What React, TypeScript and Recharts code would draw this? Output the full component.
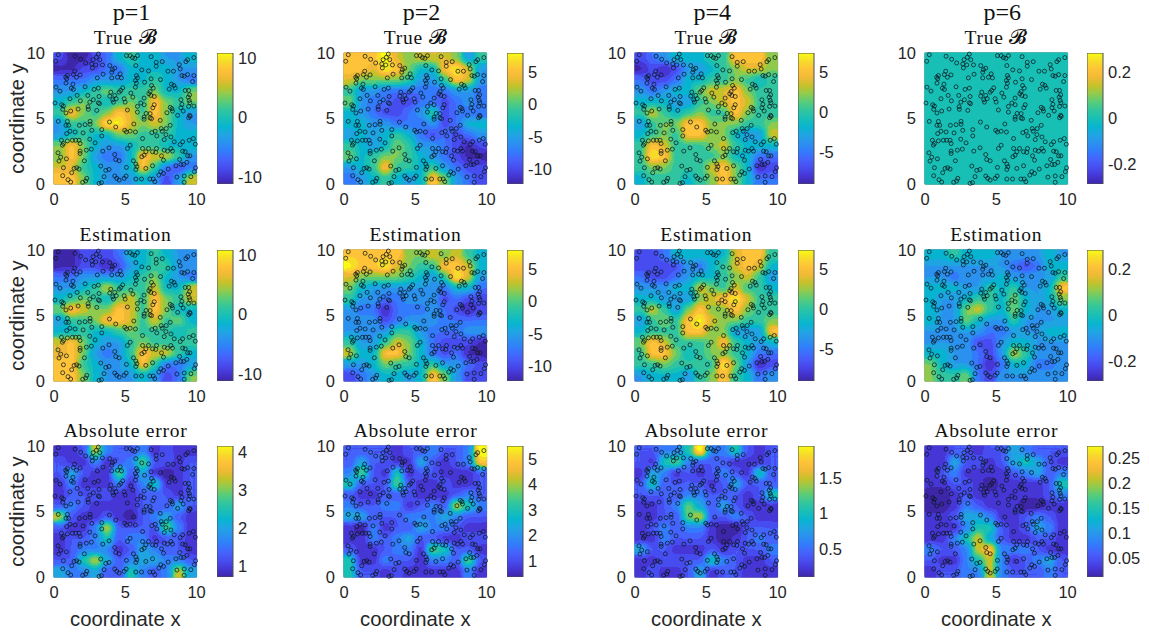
import React from 'react';
import { ScatterChart, Scatter, XAxis, YAxis, ReferenceArea, BarChart, Bar, Label } from 'recharts';

const pointX = [.30,.12,1.48,1.87,2.22,3.11,2.97,3.21,2.74,2.65,2.93,2.69,3.40,3.91,4.26,4.10,5.08,5.34,5.50,5.67,5.85,6.81,7.17,7.59,7.17,5.74,8.78,9.37,9.25,9.81,8.85,6.16,6.63,8.38,7.99,1.45,1.36,1.57,1.83,.94,.82,.89,3.44,3.04,4.05,4.64,4.45,4.73,4.05,5.78,5.85,5.71,5.78,6.81,7.47,6.35,8.97,9.13,9.37,9.81,9.72,.84,1.33,1.22,1.36,2.18,.14,.42,4.82,4.68,4.57,5.71,6.84,6.96,3.11,2.81,8.24,8.41,8.50,8.08,9.20,9.44,9.51,6.74,6.65,3.98,3.91,4.26,4.36,4.12,4.17,1.62,2.37,1.85,1.12,2.76,2.51,3.16,3.11,3.19,4.92,4.99,5.39,5.53,6.32,6.79,7.03,6.09,5.85,6.32,7.03,6.93,8.90,9.41,9.48,9.53,8.97,8.90,9.44,9.81,.07,.54,.66,.61,.84,1.17,1.69,2.39,2.41,3.00,5.15,5.85,6.46,6.74,8.15,8.27,7.92,8.31,8.67,9.06,9.51,9.44,9.55,6.32,6.32,6.74,6.84,7.45,3.89,.30,.94,.84,2.53,2.53,2.18,1.78,1.03,5.60,4.33,3.35,2.65,4.96,5.08,5.34,5.71,1.12,1.48,.89,2.04,3.35,2.51,1.76,1.52,1.29,1.83,.52,.66,.59,.94,2.88,6.21,6.86,7.10,7.52,7.59,7.87,8.15,7.21,7.85,7.73,8.20,8.43,9.48,9.77,8.85,9.02,9.91,5.34,5.15,3.86,3.42,2.62,2.27,1.83,1.83,.28,.47,.35,.87,2.13,6.21,6.63,6.44,6.91,7.14,7.19,7.73,7.96,8.31,8.20,9.02,9.37,9.53,9.20,6.32,6.16,7.54,7.68,4.26,4.33,4.57,5.57,5.74,5.81,5.74,8.81,8.90,9.09,9.32,8.55,9.93,9.84,8.01,7.49,7.35,7.68,6.91,6.44,.66,1.41,1.59,1.76,1.24,.61,3.28,3.63,3.86,5.08,5.06,3.51,.98,1.17,2.30,2.22,2.01,3.16,3.33,4.26,4.40,4.57,4.92,5.74,6.14,6.72,6.96,7.07,8.62,9.13,9.13,9.60];
const pointY = [9.87,9.37,9.75,9.52,9.24,9.92,9.67,9.49,9.49,9.16,9.09,8.86,9.09,9.04,8.84,8.73,9.80,9.80,9.65,9.59,9.80,9.72,9.29,9.34,8.99,9.04,9.11,9.49,9.34,9.65,8.78,8.71,8.63,8.61,8.61,8.61,8.35,8.15,8.33,8.28,8.15,8.03,8.38,8.10,8.53,8.41,8.15,8.10,8.10,8.28,8.10,7.90,7.70,8.03,7.97,7.77,8.28,8.23,8.35,8.28,7.82,7.70,7.62,7.32,7.22,7.42,7.39,7.09,7.34,7.14,7.01,7.39,7.52,7.32,7.32,7.22,7.62,7.52,7.32,7.24,7.14,7.14,6.81,7.06,6.89,7.01,6.71,6.76,6.51,6.43,6.25,6.76,6.76,6.35,6.51,6.43,6.25,6.68,6.20,6.13,6.51,6.25,6.94,6.63,6.56,6.76,6.68,6.18,5.92,6.05,6.05,5.82,6.43,6.63,6.38,6.20,6.08,5.82,5.92,5.95,6.18,6.05,5.95,5.70,5.42,5.57,5.72,5.90,5.70,5.62,5.65,5.49,5.39,5.37,5.85,5.75,5.44,5.57,5.24,5.57,5.24,5.06,5.16,5.11,4.94,5.04,4.99,4.86,4.73,4.78,4.78,4.48,4.78,4.56,4.53,4.48,4.48,4.58,4.35,4.15,4.10,4.10,3.97,4.03,3.97,4.03,3.97,3.85,3.90,3.67,3.42,3.34,3.34,3.34,3.09,3.34,3.09,2.96,3.29,3.14,3.47,3.92,4.03,4.23,4.03,4.23,4.48,3.67,3.77,3.39,3.59,3.22,3.34,3.47,3.01,3.22,3.04,2.96,2.71,2.76,2.51,2.66,2.58,2.51,2.33,2.38,2.05,1.75,1.92,1.77,2.71,2.71,2.46,2.46,2.41,2.71,2.58,2.51,2.51,2.71,2.51,2.15,2.15,2.46,2.20,2.08,2.15,1.82,2.25,1.87,1.77,1.77,1.52,1.32,1.11,1.87,1.49,1.49,1.65,1.39,1.24,.94,1.14,.94,.68,.81,1.39,1.19,1.24,1.19,1.24,1.14,.86,.63,1.37,1.04,1.11,1.27,.61,.56,.33,.15,.43,.23,.13,.05,.10,.61,.43,.30,.43,.38,.38,.38,.38,.18,.53,.61,.13,.56];

const true1 = [[1,0,0,1,2,4,5,4,4,3,3,4],[0,0,1,1,2,2,4,4,4,4,3,3],[2,2,2,3,3,3,4,4,5,4,3,2],[3,3,4,5,6,5,5,5,6,4,4,6],[4,5,6,5,4,5,6,5,8,6,5,6],[5,8,6,5,6,8,7,5,8,6,4,3],[3,5,5,6,9,9,7,6,7,6,4,3],[3,4,5,4,4,6,6,5,5,5,4,4],[6,8,6,4,3,3,4,5,5,4,4,4],[6,8,6,3,2,2,4,8,7,7,5,3],[7,7,5,4,3,3,4,8,5,2,1,2],[8,8,6,4,3,3,3,4,3,1,3,7]];
const true2 = [[8,8,8,9,7,6,7,7,7,6,3,5],[8,8,7,9,8,6,4,4,8,9,7,3],[7,6,6,6,6,5,3,3,5,8,7,3],[5,3,3,2,2,2,2,2,2,3,3,2],[6,3,2,2,1,1,2,2,1,2,3,2],[4,3,2,1,1,2,3,5,1,2,2,2],[4,4,3,3,2,2,2,3,1,2,4,4],[3,4,3,4,5,4,2,1,2,1,2,3],[5,4,3,4,6,5,3,3,2,1,0,1],[6,4,5,6,6,5,4,3,2,1,0,0],[3,4,5,8,5,5,4,5,3,2,1,1],[2,3,4,5,4,3,4,8,6,3,2,1]];
const true4 = [[1,2,3,4,4,4,5,5,8,8,8,6],[0,1,0,1,3,3,4,5,6,7,7,6],[2,1,1,2,4,4,5,5,6,5,4,5],[3,2,3,4,4,6,7,7,8,6,5,5],[4,4,4,3,3,5,6,7,8,7,5,5],[5,7,5,4,5,6,5,5,8,6,5,5],[3,5,6,6,8,8,6,6,6,5,5,6],[4,5,6,5,8,8,6,6,4,3,3,7],[5,8,7,5,5,5,6,7,5,4,4,4],[5,9,8,5,5,5,5,6,4,4,2,2],[5,6,6,5,5,5,7,8,6,4,0,1],[4,5,5,5,4,5,6,8,6,4,2,2]];
const true6 = [[4.5,4.5,4.5,4.5,4.5,4.5,4.5,4.5,4.5,4.5,4.5,4.5],[4.5,4.5,4.5,4.5,4.5,4.5,4.5,4.5,4.5,4.5,4.5,4.5],[4.5,4.5,4.5,4.5,4.5,4.5,4.5,4.5,4.5,4.5,4.5,4.5],[4.5,4.5,4.5,4.5,4.5,4.5,4.5,4.5,4.5,4.5,4.5,4.5],[4.5,4.5,4.5,4.5,4.5,4.5,4.5,4.5,4.5,4.5,4.5,4.5],[4.5,4.5,4.5,4.5,4.5,4.5,4.5,4.5,4.5,4.5,4.5,4.5],[4.5,4.5,4.5,4.5,4.5,4.5,4.5,4.5,4.5,4.5,4.5,4.5],[4.5,4.5,4.5,4.5,4.5,4.5,4.5,4.5,4.5,4.5,4.5,4.5],[4.5,4.5,4.5,4.5,4.5,4.5,4.5,4.5,4.5,4.5,4.5,4.5],[4.5,4.5,4.5,4.5,4.5,4.5,4.5,4.5,4.5,4.5,4.5,4.5],[4.5,4.5,4.5,4.5,4.5,4.5,4.5,4.5,4.5,4.5,4.5,4.5],[4.5,4.5,4.5,4.5,4.5,4.5,4.5,4.5,4.5,4.5,4.5,4.5]];
const est1 = [[0,0,1,1,1,2,4,4,5,4,3,3],[0,0,1,1,0,1,3,4,5,5,3,3],[2,2,3,3,3,3,4,5,6,4,3,2],[3,3,4,5,7,5,5,5,7,4,4,7],[4,5,6,5,4,6,7,5,8,6,5,7],[6,8,7,6,6,8,7,5,8,6,4,4],[3,5,5,6,8,8,7,5,7,5,6,4],[4,4,5,4,4,5,6,5,5,5,4,5],[7,8,6,4,3,3,5,6,5,5,5,5],[7,8,6,3,2,3,5,8,7,7,5,4],[8,8,5,4,3,3,4,8,5,2,2,3],[8,8,6,4,3,3,3,4,3,1,2,6]];
const est2 = [[8,8,8,8,8,6,6,7,6,7,5,4],[9,8,8,9,7,6,5,5,8,8,7,4],[7,6,6,6,6,5,4,3,5,9,7,3],[6,4,3,3,3,3,3,3,2,4,4,2],[5,3,3,2,2,3,3,3,1,2,1,1],[3,2,2,0,2,2,2,3,2,1,0,1],[3,3,3,1,2,3,3,3,2,2,2,2],[3,3,3,3,5,5,3,2,2,2,3,3],[5,3,3,5,7,6,4,2,1,1,1,0],[7,4,4,8,8,6,4,2,1,2,0,0],[3,3,4,6,5,5,4,5,3,3,2,1],[1,2,3,4,4,3,4,8,6,3,1,1]];
const est4 = [[1,1,2,4,4,4,4,4,7,8,8,5],[1,1,1,1,3,2,4,5,7,8,7,4],[2,1,1,2,3,4,4,5,6,7,5,3],[3,3,3,4,4,7,6,5,7,5,5,4],[4,4,3,3,3,6,7,8,9,7,5,5],[5,7,5,3,6,8,6,6,8,6,5,5],[3,5,6,5,8,9,7,6,6,5,5,6],[4,5,5,5,8,8,6,6,3,3,3,8],[6,8,7,5,5,5,6,8,5,4,3,4],[5,8,8,6,4,5,6,6,5,4,2,2],[5,5,6,5,5,5,5,9,6,3,0,1],[3,4,4,4,3,5,6,8,5,4,2,3]];
const est6 = [[4,4,5,4,4,4,3,3,3,3,4,3],[3,3,3,3,3,3,3,2,1,2,4,4],[3,3,2,3,3,3,4,3,3,3,3,5],[4,4,4,3,3,5,4,5,3,3,4,8],[4,3,3,4,5,5,4,6,4,3,4,6],[4,3,3,6,7,5,4,6,4,3,3,4],[4,3,3,6,4,3,3,5,3,3,3,3],[3,3,3,3,3,2,2,3,3,3,4,4],[3,3,3,3,1,1,3,4,4,3,3,3],[4,4,3,3,2,1,3,7,5,3,3,3],[6,4,3,3,2,0,2,4,4,2,2,3],[6,5,5,6,2,1,3,3,3,3,3,3]];
const err1 = [[1,1,2,7,3,2,2,3,1,2,1,1],[2,1,1,3,1,2,3,6,2,2,1,2],[2,4,2,1,1,6,2,4,1,0,1,2],[1,3,1,1,1,3,1,3,5,1,1,2],[1,2,2,2,2,1,1,2,2,2,1,2],[2,3,2,1,1,1,1,2,2,2,4,2],[7,2,1,1,2,1,0,2,3,4,2,1],[2,1,1,3,7,2,2,2,2,6,3,1],[1,2,2,3,5,2,3,3,1,2,2,1],[1,2,3,3,3,1,2,4,3,2,2,1],[2,2,5,7,4,2,3,4,4,3,3,2],[4,3,3,4,2,2,5,3,2,3,7,4]];
const err2 = [[2,2,2,2,1,2,2,3,2,2,3,9],[2,4,2,2,1,1,4,2,1,2,3,8],[3,6,2,1,5,1,2,2,1,1,1,2],[5,2,2,2,6,2,1,1,2,1,1,2],[2,1,1,2,2,2,1,1,1,2,3,2],[3,2,2,3,3,1,2,3,2,7,5,3],[4,4,2,2,2,3,3,3,4,3,2,2],[1,0,3,1,2,2,4,3,3,2,1,1],[1,1,3,2,3,4,2,2,1,1,2,2],[2,1,1,2,3,3,1,6,5,2,2,1],[5,1,1,3,2,2,1,3,3,2,6,2],[5,2,2,1,2,1,1,1,1,1,3,1]];
const err4 = [[2,2,3,3,5,9,3,3,5,2,1,2],[2,1,5,6,3,2,2,2,1,1,1,2],[1,4,3,1,2,1,2,3,2,1,5,2],[2,5,2,2,2,2,1,2,4,2,2,2],[2,2,2,2,3,3,2,2,2,1,2,5],[1,1,2,3,6,4,2,4,2,1,1,1],[1,1,2,2,6,7,2,2,3,2,1,1],[1,2,3,2,3,3,1,0,0,2,2,2],[1,1,3,2,2,2,1,0,1,2,3,2],[4,2,2,1,1,1,2,1,2,2,2,3],[1,1,2,2,2,2,5,3,2,1,1,2],[1,2,1,1,2,4,1,2,2,1,1,1]];
const err6 = [[1,1,2,2,1,2,2,4,3,2,2,2],[1,1,4,2,2,1,2,4,5,4,2,1],[1,2,3,1,1,1,1,2,3,4,2,3],[1,1,2,2,1,0,1,1,1,1,2,5],[0,0,1,2,1,1,1,1,1,1,2,3],[0,0,1,3,2,1,1,1,0,0,1,1],[1,1,2,4,4,3,1,1,2,3,2,1],[1,1,1,3,5,5,2,1,2,4,3,1],[1,1,3,5,7,4,2,1,1,2,2,1],[3,2,2,3,7,8,3,3,3,2,1,1],[2,1,1,3,5,7,3,1,2,3,4,2],[1,2,2,3,3,7,3,2,2,2,3,2]];

const rowTitles = ['True 𝓑', 'Estimation', 'Absolute error'];
const columnTitles = ['p=1', 'p=2', 'p=4', 'p=6'];
const grids = [[true1, true2, true4, true6], [est1, est2, est4, est6], [err1, err2, err4, err6]];
const barDomains = [
  [[-11.2, 10.8], [-12.3, 7.9], [-9, 7.4], [-0.287, 0.283]],
  [[-11.2, 10.8], [-12.3, 7.9], [-9, 7.4], [-0.287, 0.283]],
  [[0.71, 4.15], [0.37, 5.5], [0.1, 1.96], [0.012, 0.275]],
];
const barTicks = [
  [[-10, 0, 10], [-10, -5, 0, 5], [-5, 0, 5], [-0.2, 0, 0.2]],
  [[-10, 0, 10], [-10, -5, 0, 5], [-5, 0, 5], [-0.2, 0, 0.2]],
  [[1, 2, 3, 4], [1, 2, 3, 4, 5], [0.5, 1, 1.5], [0.05, 0.1, 0.15, 0.2, 0.25]],
];
const parulaR = [.2422,.2706,.2813,.2699,.1963,.1687,.1248,.0297,.0964,.1938,.3406,.5616,.7738,.9393,.9970,.9676,.9769];
const parulaG = [.1504,.2147,.3006,.3892,.4847,.5703,.6459,.7082,.7500,.7758,.8008,.7942,.7598,.7288,.7659,.8639,.9839];
const parulaB = [.6603,.8364,.9414,.9906,.9892,.9359,.8883,.8163,.7120,.6251,.4789,.3045,.1646,.2100,.2199,.1643,.0805];

const colLeft = [54.3, 344.3, 635, 925];
const rowTop = [53.3, 249.5, 445.5];
const barLeft = [217, 507, 798, 1087];
const plotW = 142.6;
const plotH = 131;
const fontSans = '"Liberation Sans", Arial, sans-serif';
const fontSerif = '"Liberation Serif", "Times New Roman", serif';
const tickStyle = { fontSize: 16.5, fill: '#262626', fontFamily: fontSans };
const points = pointX.map((x, i) => ({ x, y: pointY[i] }));
const N = 12;

const cellsOf = (grid: number[][], isError: boolean) =>
  grid.flatMap((row, r) => row.map((level, c) => ({
    x: ((c + 0.5) * 10) / N,
    y: 10 - ((r + 0.5) * 10) / N,
    shade: isError ? Math.pow(level / 9, 1.15) : (level + 0.3) / 9.6,
  })));

const Cell = (p: any) => {
  const w = plotW / N + 0.6;
  const h = plotH / N + 0.6;
  const g = Math.round(p.payload.shade * 255);
  return <rect x={p.cx - w / 2} y={p.cy - h / 2} width={w} height={h} fill={`rgb(${g},${g},${g})`} />;
};
const Dot = (p: any) => <circle cx={p.cx} cy={p.cy} r={2} fill="none" stroke="#0c1820" strokeWidth={0.75} />;

function Panel({ row, col }: { row: number; col: number }) {
  const left = 52, top = 12, bottom = 62, right = 12;
  const showY = col === 0;
  const showX = row === 2;
  return (
    <div style={{ position: 'absolute', left: colLeft[col] - left, top: rowTop[row] - top }}>
      <ScatterChart width={left + plotW + right} height={top + plotH + bottom} margin={{ top, right, bottom: 0, left: 0 }}>
        <XAxis type="number" dataKey="x" domain={[0, 10]} ticks={[0, 5, 10]} interval={0} height={bottom} tick={tickStyle} tickLine={false} axisLine={false} tickMargin={3}>
          {showX ? <Label value="coordinate x" position="insideTop" offset={35} style={{ fontSize: 20.3, fill: '#262626', fontFamily: fontSans }} /> : null}
        </XAxis>
        <YAxis type="number" dataKey="y" domain={[0, 10]} ticks={[0, 5, 10]} interval={0} width={left} tick={tickStyle} tickLine={false} axisLine={false} tickMargin={3}>
          {showY ? <Label value="coordinate y" angle={-90} position="insideLeft" offset={15} style={{ fontSize: 20.3, fill: '#262626', fontFamily: fontSans, textAnchor: 'middle' }} /> : null}
        </YAxis>
        <Scatter className={row === 2 ? 'heatErr' : 'heat'} data={cellsOf(grids[row][col], row === 2)} shape={Cell} isAnimationActive={false} />
        <Scatter data={points} shape={Dot} isAnimationActive={false} />
        <ReferenceArea x1={0} x2={10} y1={0} y2={10} fill="none" stroke="#4a4f55" strokeWidth={1} />
      </ScatterChart>
    </div>
  );
}

function Bar1({ row, col }: { row: number; col: number }) {
  const [lo, hi] = barDomains[row][col];
  return (
    <div style={{ position: 'absolute', left: barLeft[col], top: rowTop[row] - 12 }}>
      <BarChart width={16 + 52} height={12 + plotH + 12} data={[{ c: 'bar', r: [lo, hi] }]} margin={{ top: 12, right: 0, bottom: 12, left: 0 }} barCategoryGap={0}>
        <XAxis dataKey="c" hide />
        <YAxis orientation="right" type="number" domain={[lo, hi]} allowDataOverflow ticks={barTicks[row][col]} interval={0} width={52} tick={{ ...tickStyle, textAnchor: 'start' }} tickLine={false} axisLine={false} tickMargin={-1} />
        <Bar dataKey="r" fill="url(#parulaV)" stroke="#4a4f55" strokeWidth={1} isAnimationActive={false} />
      </BarChart>
    </div>
  );
}

const ContourFilter = ({ id, blur }: { id: string; blur: number }) => (
  <filter id={id} x="0" y="0" width="1" height="1" colorInterpolationFilters="sRGB">
    <feGaussianBlur in="SourceGraphic" stdDeviation={blur} result="b" />
    <feMerge result="m">
      <feMergeNode in="SourceGraphic" />
      <feMergeNode in="b" />
    </feMerge>
    <feComponentTransfer>
      <feFuncR type="discrete" tableValues={parulaR.join(' ')} />
      <feFuncG type="discrete" tableValues={parulaG.join(' ')} />
      <feFuncB type="discrete" tableValues={parulaB.join(' ')} />
    </feComponentTransfer>
  </filter>
);

export default function App() {
  return (
    <div style={{ position: 'absolute', left: 0, top: 0, width: 1149, height: 635, background: '#fff', overflow: 'hidden' }}>
      <style>{`.heat{filter:url(#contour)} .heatErr{filter:url(#contourErr)}`}</style>
      <svg width={0} height={0} style={{ position: 'absolute' }}>
        <defs>
          <linearGradient id="parulaV" x1="0" y1="1" x2="0" y2="0">
            {parulaR.map((r, i) => (
              <stop key={i} offset={i / (parulaR.length - 1)} stopColor={`rgb(${Math.round(r * 255)},${Math.round(parulaG[i] * 255)},${Math.round(parulaB[i] * 255)})`} />
            ))}
          </linearGradient>
          <ContourFilter id="contour" blur={3.8} />
          <ContourFilter id="contourErr" blur={3} />
        </defs>
      </svg>
      {columnTitles.map((t, c) => (
        <div key={t} style={{ position: 'absolute', left: colLeft[c] + plotW / 2 + 6 - 60, width: 120, top: 0, lineHeight: '25px', textAlign: 'center', fontFamily: fontSerif, fontSize: 24, color: '#111' }}>{t}</div>
      ))}
      {grids.map((cols, r) => cols.map((_, c) => (
        <React.Fragment key={`${r}-${c}`}>
          <Panel row={r} col={c} />
          <Bar1 row={r} col={c} />
          <div style={{ position: 'absolute', left: colLeft[c] + plotW / 2 - 80, width: 160, top: rowTop[r] - 26, textAlign: 'center', fontFamily: fontSerif, fontSize: 19.5, letterSpacing: 0.75, color: '#111', whiteSpace: 'nowrap' }}>{rowTitles[r]}</div>
        </React.Fragment>
      )))}
    </div>
  );
}
